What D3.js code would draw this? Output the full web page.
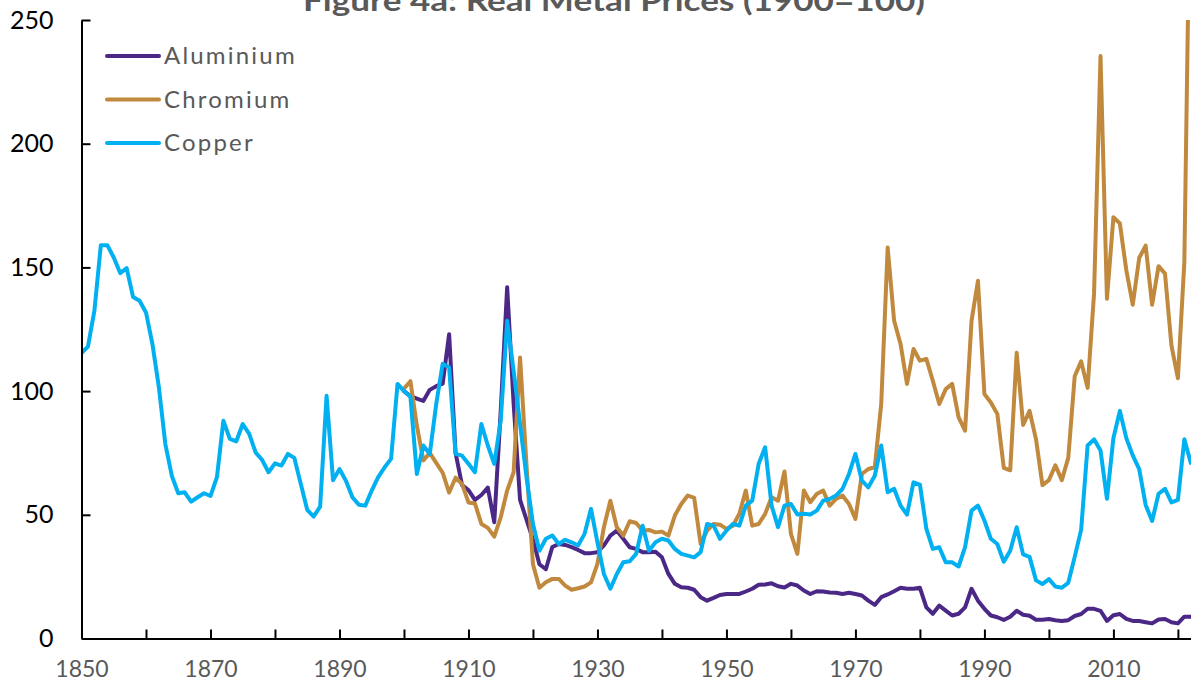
<!DOCTYPE html>
<html>
<head>
<meta charset="utf-8">
<script src="https://cdn.jsdelivr.net/npm/d3@7"></script>
<style>
  body { margin: 0; background: #fff; }
  svg { display: block; font-family: Lato, "Open Sans", sans-serif; }
</style>
</head>
<body>
<script>
// Real metal prices, index 1900 = 100
const copperStart = 1850;
const copper = [
  115.4, 118, 132.5, 159, 159, 154, 147.7, 149.7, 138, 136.5,
  131.8, 119, 101.5, 78.6, 65.8, 58.7, 59.1, 55.3, 57.1, 58.7,
  57.6, 65.2, 88, 80.7, 79.7, 86.7, 82.7, 75.2, 72.2, 67.2,
  70.8, 69.9, 74.6, 73, 62.5, 52, 49.3, 53.3, 98.1, 64,
  68.5, 63.8, 57.1, 54.1, 53.7, 59.8, 65.2, 69.2, 72.6, 102.9,
  100, 97.7, 66.5, 78, 74.6, 94.8, 111, 109.6, 74.6, 73.9,
  70.6, 67.2, 86.7, 78, 70.6, 88, 128.4, 108.2, 86.7, 65.2,
  46.3, 35.5, 40.3, 41.6, 38.2, 39.9, 38.9, 37.6, 42.3, 52.4,
  38.9, 26.1, 20.1, 26.1, 30.8, 31.2, 34.2, 45.6, 35.5, 38.9,
  40.3, 39.6, 36.2, 34.2, 33.5, 32.8, 34.9, 46.3, 45.6, 40.3,
  43.6, 46.3, 45.6, 53.7, 55.7, 70.6, 77.3, 53.7, 45, 53.7,
  54.4, 50.1, 50.4, 50.1, 51.7, 55.7, 56.4, 57.8, 60.5, 66.5,
  74.6, 63.8, 61.1, 65.8, 78, 59.1, 60.5, 53.7, 50.1, 63.1,
  62.2, 44.3, 36.2, 36.9, 30.8, 30.8, 29.1, 36.9, 51.7, 53.7,
  47.7, 40.3, 38.2, 31, 35.5, 45, 34, 33, 23.5, 22,
  24, 21, 20.5, 22.5, 33, 44, 78, 80.5, 76, 56.5,
  81, 92, 81, 74, 68.5, 54, 47.5, 58.5, 60.5, 55,
  56, 80.5, 71
];

const aluminiumStart = 1900;
const aluminium = [
  100, 98, 97, 96, 100.5, 102, 103, 123, 75, 62,
  60, 56, 58, 61, 47, 92, 142, 95, 56, 48,
  40, 30, 28, 37, 38.2, 37.8, 36.9, 35.8, 34.5, 34.5,
  34.9, 37.6, 41.6, 43.6, 40.3, 36.9, 36.2, 34.9, 34.9, 35.1,
  32.8, 26.1, 22.1, 20.7, 20.5, 19.7, 16.7, 15.3, 16.4, 17.6,
  18, 18, 18, 19, 20.1, 21.7, 21.8, 22.3, 21.1, 20.6,
  22.1, 21.4, 19.4, 18, 19.1, 19, 18.6, 18.5, 18, 18.5,
  18, 17.4, 15.3, 13.6, 16.7, 17.8, 19.1, 20.5, 20.1, 20.1,
  20.5, 12.6, 10, 13.3, 11.3, 9.3, 10, 12.6, 20.1, 15.3,
  12, 9.3, 8.6, 7.5, 8.8, 11.2, 9.6, 9.2, 7.6, 7.6,
  7.9, 7.4, 7.1, 7.4, 9.1, 9.9, 12, 12, 11.2, 7.1,
  9.4, 9.9, 7.9, 7.1, 7.1, 6.6, 6.1, 7.7, 7.9, 6.6,
  6.1, 8.8, 8.8
];

const chromiumStart = 1900;
const chromium = [
  101, 104, 86, 72, 75, 71, 67, 59, 65, 62.5,
  55, 54.6, 46.3, 44.7, 41.2, 49, 59.8, 67.2, 113.6, 70,
  30, 20.5, 22.7, 24.1, 24.1, 21.4, 19.7, 20.3, 21, 22.7,
  30.2, 45, 55.7, 45, 41.6, 47.4, 46.7, 43.6, 43.9, 42.9,
  43.2, 41.6, 49.7, 54.4, 57.8, 56.8, 38.2, 43.6, 46.3, 46,
  44.3, 45.6, 50.4, 59.8, 45.6, 46.3, 50.4, 57.1, 55.7, 67.5,
  42.3, 34.2, 59.8, 55.1, 58.4, 59.8, 53.7, 56.4, 57.8, 54.4,
  48.3, 66.5, 68.5, 69.2, 94.8, 158, 128.4, 119, 102.9, 117,
  112.3, 113, 104.2, 94.8, 100.8, 102.9, 89.4, 84, 128.4, 144.6,
  98.8, 95.4, 90.8, 69, 68, 115.5, 86.3, 92, 80.5, 62,
  64, 70, 64, 73, 106, 112, 101.3, 139.5, 235.4, 137.3,
  170.3, 167.8, 148.9, 134.9, 153.8, 158.8, 134.9, 150.5, 147.5, 118.4,
  105.2, 152.2, 330
];

const seriesNames = ["Aluminium", "Chromium", "Copper"];
const seriesColors = ["#4b2885", "#c0893d", "#00b0f0"];
const yTicks = [0, 50, 100, 150, 200, 250];
const xTicks = d3.range(1850, 2021, 10);
const xLabelYears = d3.range(1850, 2021, 20);
const title = "Figure 4a: Real Metal Prices (1900=100)";

const width = 1191, height = 694;
const margin = { top: 20, right: 0, bottom: 55.5, left: 81.5 };

const svg = d3.select("body").append("svg")
  .attr("width", width)
  .attr("height", height);

const x = d3.scaleLinear()
  .domain([1850, 2022])
  .range([margin.left, 1190.8]);

const y = d3.scaleLinear()
  .domain([0, 250])
  .range([height - margin.bottom, margin.top]);

// title sits at the very top edge, as in the source
svg.append("text")
  .attr("x", 303)
  .attr("y", 11)
  .attr("font-size", 29)
  .attr("font-weight", "bold")
  .attr("fill", "#595959")
  .attr("textLength", 622)
  .attr("lengthAdjust", "spacingAndGlyphs")
  .text(title);

// clip so the last chromium point runs off the top of the plot
svg.append("clipPath").attr("id", "plot")
  .append("rect")
  .attr("x", margin.left)
  .attr("y", margin.top)
  .attr("width", width - margin.left)
  .attr("height", height - margin.top);

const toPoints = (vals, start) => vals.map((v, i) => ({ year: start + i, value: v }));
const series = [
  toPoints(aluminium, aluminiumStart),
  toPoints(chromium, chromiumStart),
  toPoints(copper, copperStart)
];

const line = d3.line()
  .x(d => x(d.year))
  .y(d => y(d.value));

svg.append("g")
  .attr("clip-path", "url(#plot)")
  .selectAll("path")
  .data(series)
  .join("path")
  .attr("d", line)
  .attr("fill", "none")
  .attr("stroke", (d, i) => seriesColors[i])
  .attr("stroke-width", 4)
  .attr("stroke-linejoin", "round")
  .attr("stroke-linecap", "round");

// axes
const xAxis = svg.append("g")
  .attr("transform", `translate(0,${y(0)})`)
  .call(d3.axisBottom(x)
    .tickValues(xTicks)
    .tickSizeInner(-9)
    .tickSizeOuter(0)
    .tickPadding(22)
    .tickFormat(d => xLabelYears.includes(d) ? d : ""));
xAxis.select(".domain").attr("stroke", "#000").attr("stroke-width", 2);
xAxis.selectAll(".tick line").attr("stroke", "#000").attr("stroke-width", 2);
xAxis.selectAll("text")
  .attr("font-family", "Lato, sans-serif")
  .attr("font-size", 23)
  .attr("fill", "#595959");

const yAxis = svg.append("g")
  .attr("transform", `translate(${margin.left},0)`)
  .call(d3.axisLeft(y)
    .tickValues(yTicks)
    .tickSizeInner(-9)
    .tickSizeOuter(0)
    .tickPadding(28));
yAxis.select(".domain").attr("stroke", "#000").attr("stroke-width", 2);
yAxis.selectAll(".tick line").attr("stroke", "#000").attr("stroke-width", 2);
yAxis.selectAll("text")
  .attr("font-family", "Lato, sans-serif")
  .attr("font-size", 25)
  .attr("fill", "#000");

// legend
const legend = svg.append("g")
  .selectAll("g")
  .data(seriesNames)
  .join("g")
  .attr("transform", (d, i) => `translate(107,${56 + i * 43.5})`);

legend.append("line")
  .attr("x1", 0).attr("x2", 52)
  .attr("stroke", (d, i) => seriesColors[i])
  .attr("stroke-width", 4)
  .attr("stroke-linecap", "round");

legend.append("text")
  .attr("x", 57)
  .attr("dy", "0.35em")
  .attr("font-size", 24)
  .attr("letter-spacing", 2.2)
  .attr("fill", "#595959")
  .text(d => d);
</script>
</body>
</html>
